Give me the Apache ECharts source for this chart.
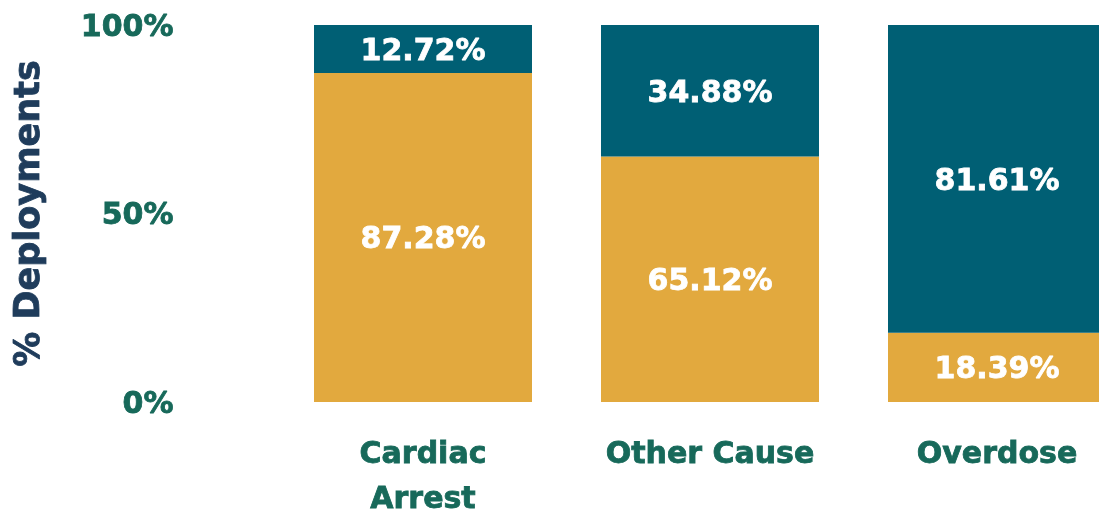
<!DOCTYPE html>
<html>
<head>
<meta charset="utf-8">
<script src="https://cdn.jsdelivr.net/npm/echarts@6/dist/echarts.min.js"></script>
<style>
    html, body { margin: 0; padding: 0; background: #fff; }
    #chart { width: 1099px; height: 514px; }
</style>
</head>
<body>
<div id="chart"></div>
<script>
// 数据
const categories = ['Cardiac\nArrest', 'Other Cause', 'Overdose']
const goldValues = [87.28, 65.12, 18.39]
const tealValues = [12.72, 34.88, 81.61]
const yTicks = [0, 50, 100]

const font = 'DejaVu Sans'
const labelColor = '#17695a'
const titleColor = '#1f3c5b'

const chartInstance = echarts.init(document.getElementById('chart'))

const barLabel = {
    show: true,
    position: 'inside',
    offset: [0, 3],
    color: '#fff',
    fontFamily: font,
    fontWeight: 'bold',
    fontSize: 30,
    textBorderColor: '#fff',
    textBorderWidth: 0.8,
    formatter: arg => arg.value.toFixed(2) + '%'
}

const option = {
    animation: false,
    grid: {
        top: 25,
        bottom: 112,
        left: 279.5,
        right: -41.5,
        outerBoundsMode: 'none'
    },
    xAxis: {
        type: 'category',
        data: categories,
        axisLine: { show: false },
        axisTick: { show: false },
        axisLabel: {
            color: labelColor,
            fontFamily: font,
            fontWeight: 'bold',
            fontSize: 30,
            lineHeight: 45,
            margin: 31,
            interval: 0,
            textBorderColor: labelColor,
            textBorderWidth: 0.8
        }
    },
    yAxis: {
        type: 'value',
        min: yTicks[0],
        max: yTicks[yTicks.length - 1],
        interval: 50,
        name: '% Deployments',
        nameLocation: 'middle',
        nameRotate: 90,
        nameGap: 232,
        nameTextStyle: {
            color: titleColor,
            fontFamily: font,
            fontWeight: 'bold',
            fontSize: 35,
            textBorderColor: titleColor,
            textBorderWidth: 0.8
        },
        axisLine: { show: false },
        axisTick: { show: false },
        splitLine: { show: false },
        axisLabel: {
            margin: 106,
            formatter: v => '{t|' + v + '%}',
            rich: {
                t: {
                    color: labelColor,
                    fontFamily: font,
                    fontWeight: 'bold',
                    fontSize: 30,
                    padding: [6, 0, 0, 0],
                    textBorderColor: labelColor,
                    textBorderWidth: 0.8
                }
            }
        }
    },
    series: [
        {
            type: 'bar',
            name: 'Group 1',
            stack: 'total',
            data: goldValues,
            barWidth: 218,
            itemStyle: { color: '#e2a93e' },
            label: barLabel
        },
        {
            type: 'bar',
            name: 'Group 2',
            stack: 'total',
            data: tealValues,
            barWidth: 218,
            itemStyle: { color: '#005f74' },
            label: barLabel
        }
    ]
}
chartInstance.setOption(option)
</script>
</body>
</html>
